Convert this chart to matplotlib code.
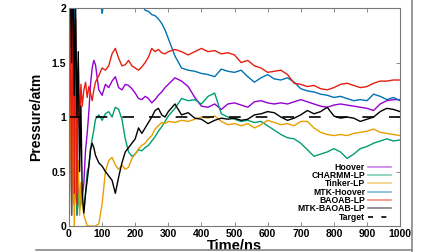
import matplotlib
matplotlib.use("Agg")
import matplotlib.pyplot as plt
from matplotlib.lines import Line2D

plt.rcParams['font.family'] = ['Liberation Sans', 'DejaVu Sans']
plt.rcParams['font.weight'] = 'bold'

# time axis (ns)
t = [0, 4, 8, 12, 16, 20, 24, 28, 32, 36, 40,
     45, 50, 55, 60, 65, 70, 75, 80,
     90, 100, 110, 120, 130, 140, 150, 160, 170, 180, 190, 200,
     210, 220, 230, 240, 250, 260, 270, 280, 290, 300,
     320, 340, 360, 380, 400, 420, 440, 460, 480, 500,
     520, 540, 560, 580, 600, 620, 640, 660, 680, 700,
     720, 740, 760, 780, 800, 820, 840, 860, 880, 900,
     920, 940, 960, 980, 1000]

hoover = [0.5, 1.5, 0.3, 1.0, 0.2, 0.6, 0.1, 0.4, 0.2, 0.3, 0.25,
          0.4, 0.7, 0.85, 1.05, 1.3, 1.45, 1.52, 1.48,
          1.25, 1.20, 1.30, 1.27, 1.33, 1.37, 1.27, 1.25, 1.30, 1.29, 1.26, 1.22,
          1.17, 1.16, 1.19, 1.17, 1.13, 1.16, 1.20, 1.23, 1.27, 1.30,
          1.36, 1.33, 1.28, 1.18, 1.10, 1.09, 1.12, 1.07, 1.12, 1.13,
          1.11, 1.09, 1.14, 1.15, 1.13, 1.12, 1.13, 1.12, 1.14, 1.16,
          1.14, 1.12, 1.10, 1.09, 1.11, 1.12, 1.11, 1.10, 1.09, 1.08,
          1.06, 1.12, 1.15, 1.16, 1.16]

charmm = [0.3, 1.6, 0.1, 0.8, 0.2, 0.5, 0.1, 0.3, 0.15, 0.25, 0.2,
          0.15, 0.3, 0.5, 0.55, 0.7, 0.80, 0.88, 0.98,
          1.02, 0.97, 1.03, 1.05, 1.00, 1.09, 1.07, 0.98, 0.80, 0.68, 0.64, 0.66,
          0.70, 0.69, 0.72, 0.74, 0.78, 0.82, 0.87, 0.91, 0.96, 1.01,
          1.08, 1.17, 1.15, 1.16, 1.12, 1.19, 1.22, 1.03, 1.00, 0.98,
          0.96, 0.97, 0.95, 0.96, 0.92, 0.88, 0.84, 0.81, 0.80, 0.76,
          0.70, 0.64, 0.66, 0.68, 0.71, 0.68, 0.62, 0.66, 0.71, 0.73,
          0.76, 0.78, 0.80, 0.78, 0.79]

tinker = [0.1, 1.8, 0.2, 1.2, 0.0, 0.9, 0.3, 0.6, 0.1, 0.4, 0.2,
          0.1, 0.05, 0.0, 0.0, 0.0, 0.0, 0.0, 0.0,
          0.02, 0.2, 0.5, 0.6, 0.63, 0.56, 0.52, 0.56, 0.52, 0.54, 0.62, 0.66,
          0.71, 0.74, 0.76, 0.80, 0.83, 0.89, 0.92, 0.95, 0.94, 0.96,
          0.95, 0.97, 0.96, 0.98, 1.00, 0.99, 1.01, 0.96, 0.93, 0.94,
          0.92, 0.94, 0.90, 0.93, 0.97, 0.95, 0.93, 0.94, 0.92, 0.96,
          0.96, 0.90, 0.86, 0.84, 0.83, 0.84, 0.83, 0.85, 0.86, 0.87,
          0.89, 0.86, 0.85, 0.84, 0.83]

mtk_hoover = [3.0, 2.6, 1.9, 2.4, 1.78, 2.2, 2.0, 2.5, 2.3, 2.6, 2.7,
              2.8, 2.6, 2.5, 2.4, 2.5, 2.4, 2.3, 2.35,
              2.2, 1.95, 2.15, 2.3, 2.35, 2.3, 2.25, 2.3, 2.25, 2.2, 2.15, 2.12,
              2.08, 2.03, 1.98, 1.97, 1.94, 1.93, 1.90, 1.86, 1.80, 1.72,
              1.56, 1.45, 1.43, 1.42, 1.40, 1.39, 1.37, 1.44, 1.42, 1.41,
              1.43, 1.37, 1.32, 1.36, 1.39, 1.35, 1.34, 1.36, 1.32, 1.26,
              1.24, 1.23, 1.21, 1.20, 1.18, 1.19, 1.17, 1.15, 1.16, 1.15,
              1.21, 1.19, 1.16, 1.18, 1.15]

baoab = [0.2, 2.5, 0.1, 2.3, 0.3, 1.9, 0.2, 1.5, 0.9, 1.3, 1.1,
         1.25, 1.32, 1.18, 1.28, 1.22, 1.15, 1.25, 1.32,
         1.38, 1.45, 1.43, 1.47, 1.58, 1.63, 1.54, 1.47, 1.48, 1.52, 1.47, 1.45,
         1.43, 1.46, 1.50, 1.55, 1.63, 1.60, 1.62, 1.59, 1.58, 1.60,
         1.62, 1.60, 1.57, 1.60, 1.63, 1.60, 1.61, 1.58, 1.59, 1.57,
         1.50, 1.52, 1.47, 1.45, 1.41, 1.42, 1.43, 1.39, 1.31, 1.30,
         1.28, 1.29, 1.26, 1.25, 1.27, 1.30, 1.31, 1.29, 1.27, 1.28,
         1.31, 1.33, 1.33, 1.34, 1.34]

mtk_baoab = [3.0, 2.2, 1.5, 2.6, 1.2, 2.0, 1.0, 1.6, 0.5, 1.1, 0.3,
             0.12, 0.3, 0.42, 0.55, 0.70, 0.76, 0.72, 0.65,
             0.58, 0.55, 0.50, 0.46, 0.42, 0.30, 0.45, 0.58, 0.68, 0.72, 0.76, 0.80,
             0.90, 0.85, 0.90, 0.95, 1.00, 1.06, 1.08, 1.02, 1.00, 1.05,
             1.12, 1.02, 1.04, 0.99, 0.98, 0.94, 0.97, 0.99, 0.98, 0.99,
             0.97, 0.98, 1.02, 1.03, 1.05, 1.04, 1.00, 0.97, 0.99, 1.02,
             1.06, 1.03, 1.05, 1.09, 1.01, 0.99, 1.00, 0.99, 0.96, 0.98,
             1.00, 1.05, 1.08, 1.07, 1.05]

target = 1.0

labels = ['Hoover', 'CHARMM-LP', 'Tinker-LP', 'MTK-Hoover', 'BAOAB-LP', 'MTK-BAOAB-LP']
series = [hoover, charmm, tinker, mtk_hoover, baoab, mtk_baoab]
colors = ['#9400d3', '#009e73', '#e69f00', '#0072b2', '#e51e10', '#000000']

xticks = [0, 100, 200, 300, 400, 500, 600, 700, 800, 900, 1000]
yticks = [0, 0.5, 1, 1.5, 2]
ytick_labels = ['0', '0.5', '1', '1.5', '2']

fig = plt.figure(figsize=(4.48, 2.52), dpi=100)
ax = fig.add_axes([0.154, 0.103, 0.739, 0.865])

for y, c in zip(series, colors):
    ax.plot(t, y, color=c, lw=1.0)
ax.axhline(target, color='black', lw=1.2, dashes=(7, 9))

ax.set_xlim(0, 1000)
ax.set_ylim(0, 2)
ax.set_xticks(xticks)
ax.set_xticklabels([str(v) for v in xticks])
ax.set_yticks(yticks)
ax.set_yticklabels(ytick_labels)
ax.tick_params(direction='in', top=True, right=True, length=3, width=0.6,
               labelsize=7.5, pad=2, color='#777777')
for s in ax.spines.values():
    s.set_color('#777777')
    s.set_linewidth(0.8)

ax.set_xlabel('Time/ns', fontsize=10.5, fontweight='bold', labelpad=0)
ax.set_ylabel('Pressure/atm', fontsize=10, fontweight='bold', labelpad=6)

handles = [Line2D([], [], color=c, lw=1.2) for c in colors]
handles.append(Line2D([], [], color='black', lw=1.2, dashes=(3, 5)))
leg = ax.legend(handles, labels + ['Target'], loc='lower right', frameon=False,
                markerfirst=False, fontsize=6.2, handlelength=2.6, handletextpad=0.4,
                labelspacing=-0.08, borderaxespad=0.1, bbox_to_anchor=(0.985, 0.0))
for line in leg.get_lines()[:-1]:
    line.set_alpha(0.5)

# screenshot frame lines
fig.add_artist(Line2D([412 / 448, 412 / 448], [0.0, 1.0], transform=fig.transFigure,
                      color='#888888', lw=1.2))
fig.add_artist(Line2D([36 / 448, 412 / 448], [2 / 252, 2 / 252], transform=fig.transFigure,
                      color='#888888', lw=1.2))

fig.savefig('out.png', dpi=100)
